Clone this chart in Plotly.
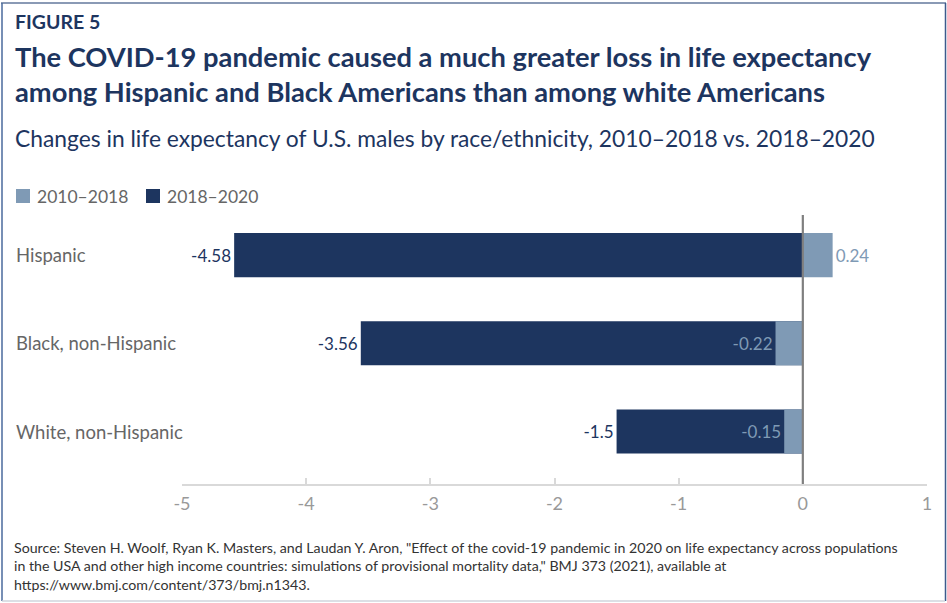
import plotly.graph_objects as go

# ---- data ----
categories = ["Hispanic", "Black, non-Hispanic", "White, non-Hispanic"]
series_names = ["2010\u20132018", "2018\u20132020"]
change_2010_2018 = [0.24, -0.22, -0.15]
change_2018_2020 = [-4.58, -3.56, -1.5]
tick_values = [-5, -4, -3, -2, -1, 0, 1]
tick_labels = ["-5", "-4", "-3", "-2", "-1", "0", "1"]

W, H = 947, 603
L, R, T, B = 182, 20, 211, 119
PW, PH = W - L - R, H - T - B

def px(x):
    return (x - L) / PW

def py(y):
    return (H - B - y) / PH

NAVY = "#1d355f"
LIGHT = "#7f9ab5"
FONT = "Lato"

fig = go.Figure()
fig.add_trace(go.Bar(
    y=categories, x=change_2018_2020, orientation="h", name=series_names[1],
    marker=dict(color=NAVY, line=dict(width=0)), width=0.5,
    text=[str(v) for v in change_2018_2020], textposition="outside",
    textfont=dict(color=NAVY, size=17, family=FONT), constraintext="none",
    cliponaxis=False, showlegend=False, hoverinfo="skip",
))
fig.add_trace(go.Bar(
    y=categories, x=change_2010_2018, orientation="h", name=series_names[0],
    marker=dict(color=LIGHT, line=dict(width=0)), width=0.5,
    text=[str(v) for v in change_2010_2018], textposition="outside",
    textfont=dict(color=LIGHT, size=17, family=FONT), constraintext="none",
    cliponaxis=False, showlegend=False, hoverinfo="skip",
))

annotations = []
def txt(text, x, y, size, color, bold=False, yanchor="middle"):
    annotations.append(dict(
        text=f"<b>{text}</b>" if bold else text, x=px(x), y=py(y),
        xref="paper", yref="paper", xanchor="left", yanchor=yanchor,
        showarrow=False, align="left",
        font=dict(family=FONT, size=size, color=color)))

txt("FIGURE 5", 13, 21, 19.5, NAVY, bold=True)
txt("The COVID-19 pandemic caused a much greater loss in life expectancy", 13, 56, 27.3, NAVY, bold=True)
txt("among Hispanic and Black Americans than among white Americans", 13, 91, 27.3, NAVY, bold=True)
txt("Changes in life expectancy of U.S. males by race/ethnicity, 2010\u20132018 vs. 2018\u20132020", 13, 138, 22.8, NAVY)
txt("Source: Steven H. Woolf, Ryan K. Masters, and Laudan Y. Aron, \"Effect of the covid-19 pandemic in 2020 on life expectancy across populations<br>"
    "in the USA and other high income countries: simulations of provisional mortality data,\" BMJ 373 (2021), available at<br>"
    "https://www.bmj.com/content/373/bmj.n1343.", 12, 566, 14.2, "#333333")

# legend (manual, matching the reference layout)
legend_colors = [LIGHT, NAVY]
legend_x = [16, 146]
shapes = []
for name, col, lx in zip(series_names, legend_colors, legend_x):
    shapes.append(dict(type="rect", xref="paper", yref="paper",
                       x0=px(lx), x1=px(lx + 14), y0=py(203), y1=py(189),
                       fillcolor=col, line=dict(width=0)))
    txt(name, lx + 19, 196, 17.5, "#666666")

for c in categories:
    annotations.append(dict(text=c, x=px(14), y=c, xref="paper", yref="y",
                            xanchor="left", yanchor="middle", showarrow=False,
                            font=dict(family=FONT, size=18.5, color="#666666")))

shapes += [
    dict(type="line", xref="x", yref="paper", x0=0, x1=0, y0=0, y1=0.985,
         line=dict(color="#7f7f7f", width=2.2), layer="above"),
    dict(type="line", xref="paper", yref="paper", x0=px(1), x1=px(946), y0=py(3), y1=py(3),
         line=dict(color="#8a9ab5", width=2)),
    dict(type="line", xref="paper", yref="paper", x0=px(2), x1=px(2), y0=py(3), y1=py(601),
         line=dict(color="#4a6a9c", width=1.5)),
    dict(type="line", xref="paper", yref="paper", x0=px(945.5), x1=px(945.5), y0=py(3), y1=py(601),
         line=dict(color="#3d5a8c", width=1.5)),
    dict(type="line", xref="paper", yref="paper", x0=px(2), x1=px(945), y0=py(601), y1=py(601),
         line=dict(color="#d0d5dc", width=1.5)),
]

fig.update_layout(
    width=W, height=H, margin=dict(l=L, r=R, t=T, b=B, autoexpand=False),
    paper_bgcolor="white", plot_bgcolor="white",
    barmode="overlay", showlegend=False,
    font=dict(family=FONT),
    xaxis=dict(range=[-5, 1], tickvals=tick_values, ticktext=tick_labels,
               showgrid=False, zeroline=False, showline=True, linecolor="#d9d9d9", linewidth=2,
               ticks="inside", ticklen=6, tickcolor="#d9d9d9", tickwidth=1.5,
               tickfont=dict(family=FONT, size=18, color="#999999"), ticklabelstandoff=2,
               fixedrange=True),
    yaxis=dict(categoryorder="array", categoryarray=categories, range=[2.595, -0.5],
               showticklabels=False, showgrid=False, zeroline=False, showline=False, ticks="",
               fixedrange=True),
    annotations=annotations, shapes=shapes,
)

fig.write_html("out.html")
